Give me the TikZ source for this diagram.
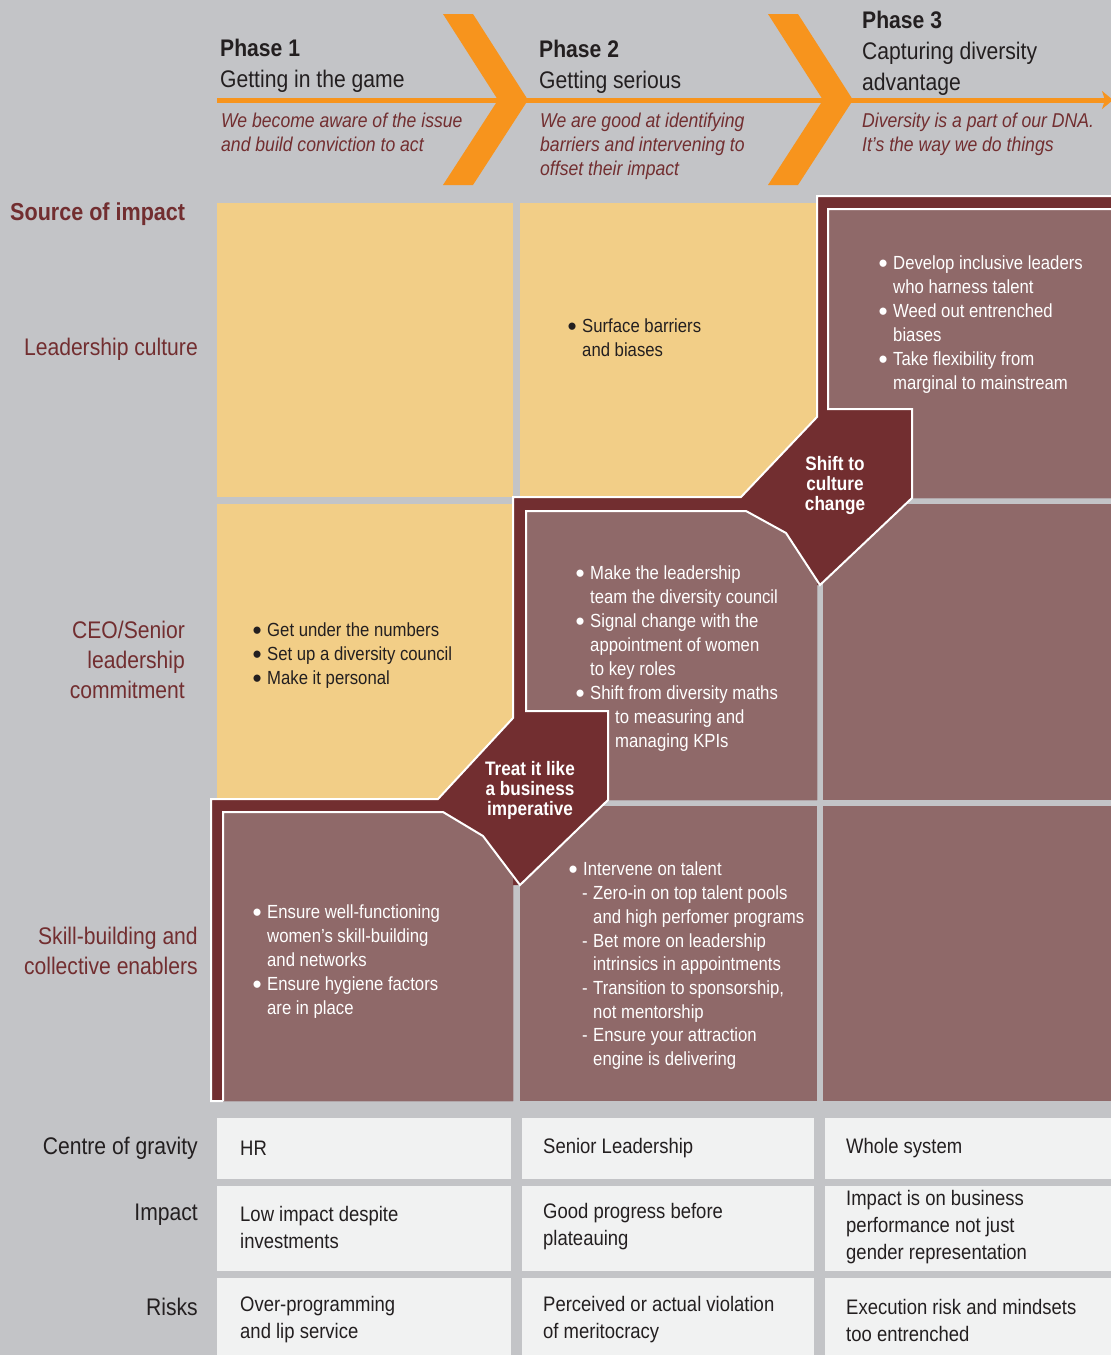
\documentclass[tikz,border=0pt]{standalone}
\usepackage{fontspec}
\usepackage{graphicx}
\setmainfont{Liberation Sans}[FakeStretch=0.88]
\usetikzlibrary{positioning, arrows.meta}

% Farben aus der Vorlage
\definecolor{grund}{HTML}{C3C4C7}
\definecolor{gelb}{HTML}{F2CE87}
\definecolor{mauve}{HTML}{8F6969}
\definecolor{weinrot}{HTML}{722E30}
\definecolor{orangeton}{HTML}{F7941D}
\definecolor{hell}{HTML}{F1F2F2}
\definecolor{schrift}{HTML}{231F20}

% Aufzählungszeichen (größer als das Standardzeichen, ohne Einfluss auf die Zeilenhöhe)
\newcommand{\dicker}{\smash{\raisebox{-2.6pt}{\scalebox{1.55}[1.4]{\textbullet}}}}
\newcommand{\pkt}{\makebox[10pt][l]{\hspace*{-4.5pt}\dicker}}
\newcommand{\einz}{\hspace*{10pt}}
\newcommand{\strich}{\hspace*{9pt}\makebox[11pt][l]{-}}
\newcommand{\einzz}{\hspace*{20pt}}

\tikzset{
    gelbfeld/.style={fill=gelb},
    mauvefeld/.style={fill=mauve},
    tabfeld/.style={fill=hell},
    randlinie/.style={draw=white, line width=2pt, line join=miter},   % weiße Kontur
    phasentitel/.style={anchor=north west, inner sep=0pt, align=left, text=schrift,
        font=\fontsize{24}{31}\selectfont},
    phasentext/.style={anchor=north west, inner sep=0pt, align=left, text=weinrot,
        font=\fontsize{20}{24}\selectfont\itshape},
    zeilenkopf/.style={anchor=north east, inner sep=0pt, align=right, text=weinrot,
        font=\fontsize{24}{30}\selectfont},
    dunkeltext/.style={anchor=north west, inner sep=0pt, align=left, text=schrift,
        font=\fontsize{19}{24}\selectfont},
    hellertext/.style={dunkeltext, text=white},
    knicktext/.style={anchor=north, inner sep=0pt, align=center, text=white,
        font=\fontsize{19.5}{20}\selectfont\bfseries},
    tabtext/.style={anchor=west, inner sep=0pt, align=left, text=schrift,
        font=\fontsize{21}{27}\selectfont}
}

\begin{document}
\begin{tikzpicture}[x=1pt, y=-1pt]

    % Hintergrund und feste Bildgröße (1111 x 1355 Pixel)
    \useasboundingbox (0,0) rectangle (1111,1355);
    \fill[grund] (0,0) rectangle (1111,1355);
    \clip (0,0) rectangle (1111,1355);

    % Zeitachse mit Pfeilspitze am rechten Rand
    \coordinate (achseStart) at (217,100);
    \coordinate (achseEnde) at (1113,100);
    \draw[orangeton, line width=5pt, -{Stealth[length=11pt, width=18pt, inset=3pt]}] (achseStart) -- (achseEnde);

    % Zwei Winkel zwischen den Phasen (gleiche Form, nur verschoben)
    \foreach \dx in {0,325} {
        \fill[orangeton] ({443+\dx},14) -- ({473+\dx},14) -- ({528+\dx},100)
            -- ({473+\dx},185) -- ({443+\dx},185) -- ({498+\dx},100) -- cycle;
    }

    % Phasenköpfe
    \node[phasentitel] (phase1) at (220,39) {\textbf{Phase 1}\\Getting in the game};
    \node[phasentitel] (phase2) at (539,40) {\textbf{Phase 2}\\Getting serious};
    \node[phasentitel] (phase3) at (862,11) {\textbf{Phase 3}\\Capturing diversity\\advantage};
    \node[phasentext] (phase1text) at (221,113) {We become aware of the issue\\and build conviction to act};
    \node[phasentext] (phase2text) at (540,113) {We are good at identifying\\barriers and intervening to\\offset their impact};
    \node[phasentext] (phase3text) at (862,113) {Diversity is a part of our DNA.\\It's the way we do things};

    % Gelbe Felder
    \fill[gelbfeld] (217,203) rectangle (513,497);
    \fill[gelbfeld] (520,203) rectangle (817,497);
    \fill[gelbfeld] (217,504) rectangle (513,800);
    % schlichte Mauve-Felder
    \fill[mauvefeld] (520,806) rectangle (817,1101);
    \fill[mauvefeld] (823,504) rectangle (1115,800);
    \fill[mauvefeld] (823,806) rectangle (1115,1101);

    % Weinrote Treppe samt beiden Knickfeldern
    \fill[weinrot] (211,1101) -- (211,799) -- (438,799) -- (513,718) -- (513,497)
        -- (741,497) -- (817,417) -- (817,196) -- (1115,196) -- (1115,498)
        -- (912,498) -- (820,585) -- (817,585) -- (817,800) -- (608,800)
        -- (520,885) -- (513,885) -- (513,1101) -- cycle;

    % Innere Felder der Treppe
    \fill[mauvefeld] (828,209) -- (1115,209) -- (1115,498) -- (912,498) -- (912,409) -- (828,409) -- cycle;
    \fill[mauvefeld] (526,511) -- (746,511) -- (786,533) -- (817,581) -- (817,800) -- (608,800)
        -- (608,711) -- (526,711) -- cycle;
    \fill[mauvefeld] (223,812) -- (443,812) -- (483,836) -- (513,877) -- (513,1101) -- (223,1101) -- cycle;

    % Weiße Konturen: außen und innen
    \draw[randlinie] (223,1101) -- (211,1101) -- (211,799) -- (438,799) -- (513,718) -- (513,497)
        -- (741,497) -- (817,417) -- (817,196) -- (1115,196);
    \draw[randlinie] (1115,209) -- (828,209) -- (828,409) -- (912,409) -- (912,498) -- (820,585)
        -- (786,533) -- (746,511) -- (526,511) -- (526,711) -- (608,711) -- (608,800)
        -- (520,885) -- (483,836) -- (443,812) -- (223,812) -- (223,1101);

    % Zeilenköpfe links
    \node[zeilenkopf, anchor=north west, align=left, font=\fontsize{24.5}{30}\selectfont\bfseries] (quelle) at (10,203) {Source of impact};
    \node[zeilenkopf] (kopfKultur) at (198,338) {Leadership culture};
    \node[zeilenkopf] (kopfCeo) at (185,621) {CEO/Senior\\leadership\\commitment};
    \node[zeilenkopf] (kopfSkill) at (198,927) {Skill-building and\\collective enablers};

    % Inhalte der Felder (x = Textanfang minus 10)
    \node[dunkeltext] (feld21) at (572,319) {\pkt Surface barriers\\\einz and biases};
    \node[hellertext] (feld31) at (883,256) {\pkt Develop inclusive leaders\\\einz who harness talent\\
        \pkt Weed out entrenched\\\einz biases\\\pkt Take flexibility from\\\einz marginal to mainstream};
    \node[dunkeltext] (feld12) at (257,623) {\pkt Get under the numbers\\\pkt Set up a diversity council\\\pkt Make it personal};
    \node[hellertext] (feld22) at (580,566) {\pkt Make the leadership\\\einz team the diversity council\\
        \pkt Signal change with the\\\einz appointment of women\\\einz to key roles\\
        \pkt Shift from diversity maths\\\hspace*{35pt}to measuring and\\\hspace*{35pt}managing KPIs};
    \node[hellertext] (feld13) at (257,905) {\pkt Ensure well-functioning\\\einz women’s skill-building\\
        \einz and networks\\\pkt Ensure hygiene factors\\\einz are in place};
    \node[hellertext, font=\fontsize{19}{23.7}\selectfont] (feld23) at (573,862) {\pkt Intervene on talent\\
        \strich Zero-in on top talent pools\\\einzz and high perfomer programs\\
        \strich Bet more on leadership\\\einzz intrinsics in appointments\\
        \strich Transition to sponsorship,\\\einzz not mentorship\\
        \strich Ensure your attraction\\\einzz engine is delivering};

    % Texte in den Knickfeldern
    \node[knicktext] (knickKultur) at (835,456) {Shift to\\culture\\change};
    \node[knicktext] (knickBusiness) at (530,761) {Treat it like\\a business\\imperative};

    % Untere Tabelle: 3 x 3 helle Felder
    \foreach \xa/\xb in {217/511, 522/814, 825/1115} {
        \foreach \ya/\yb in {1118/1179, 1186/1271, 1278/1360} {
            \fill[tabfeld] (\xa,\ya) rectangle (\xb,\yb);
        }
    }
    \node[zeilenkopf, text=schrift, anchor=east] (kopfGravitation) at (198,1148) {Centre of gravity};
    \node[zeilenkopf, text=schrift, anchor=east] (kopfWirkung) at (198,1215) {Impact};
    \node[zeilenkopf, text=schrift, anchor=east] (kopfRisiko) at (198,1307) {Risks};

    \node[tabtext] (gravitation1) at (240,1148) {HR};
    \node[tabtext] (gravitation2) at (543,1148) {Senior Leadership};
    \node[tabtext] (gravitation3) at (846,1148) {Whole system};
    \node[tabtext] (wirkung1) at (240,1227) {Low impact despite\\investments};
    \node[tabtext] (wirkung2) at (543,1227) {Good progress before\\plateauing};
    \node[tabtext] (wirkung3) at (846,1227) {Impact is on business\\performance not just\\gender representation};
    \node[tabtext] (risiko1) at (240,1320) {Over-programming\\and lip service};
    \node[tabtext] (risiko2) at (543,1320) {Perceived or actual violation\\of meritocracy};
    \node[tabtext] (risiko3) at (846,1320) {Execution risk and mindsets\\too entrenched};

\end{tikzpicture}
\end{document}
